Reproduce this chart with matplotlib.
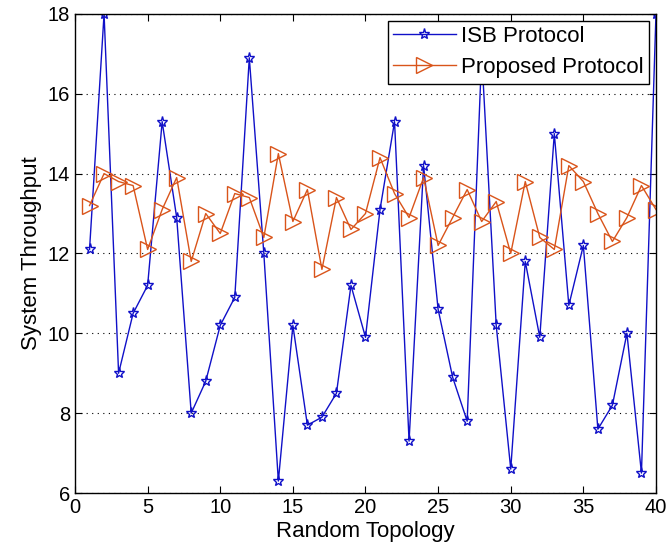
import matplotlib
matplotlib.use('Agg')
import matplotlib.pyplot as plt

plt.rcParams['font.family'] = ['Liberation Sans', 'DejaVu Sans']

topology = list(range(1, 41))
isb_protocol = [12.1, 18.0, 9.0, 10.5, 11.2, 15.3, 12.9, 8.0, 8.8, 10.2,
                10.9, 16.9, 12.0, 6.3, 10.2, 7.7, 7.9, 8.5, 11.2, 9.9,
                13.1, 15.3, 7.3, 14.2, 10.6, 8.9, 7.8, 17.0, 10.2, 6.6,
                11.8, 9.9, 15.0, 10.7, 12.2, 7.6, 8.2, 10.0, 6.5, 18.0]
proposed_protocol = [13.2, 14.0, 13.8, 13.7, 12.1, 13.1, 13.9, 11.8, 13.0, 12.5,
                     13.5, 13.4, 12.4, 14.5, 12.8, 13.6, 11.6, 13.4, 12.6, 13.0,
                     14.4, 13.5, 12.9, 13.9, 12.2, 12.9, 13.6, 12.8, 13.3, 12.0,
                     13.8, 12.4, 12.1, 14.2, 13.8, 13.0, 12.3, 12.9, 13.7, 13.1]

fig = plt.figure(figsize=(6.68, 5.54), dpi=100)
ax = fig.add_axes([0.1123, 0.110, 0.8697, 0.865])

ax.plot(topology, isb_protocol, color='#1010c8', lw=1.0, marker='*',
        markersize=8, markerfacecolor='none', markeredgewidth=1.0, label='ISB Protocol')
ax.plot(topology, proposed_protocol, color='#d9541a', lw=1.0, marker='>',
        markersize=11, markerfacecolor='none', markeredgewidth=1.0, label='Proposed Protocol')

ax.set_xlim(0, 40)
ax.set_ylim(6, 18)
ax.set_xticks(range(0, 41, 5))
ax.set_yticks(range(6, 19, 2))
ax.grid(axis='y', linestyle=(0, (1, 4)), color='black', lw=0.8)
ax.tick_params(direction='in', top=True, right=True, labelsize=14.5, length=5)
for s in ax.spines.values():
    s.set_linewidth(1.0)

ax.set_xlabel('Random Topology', fontsize=16, labelpad=3)
ax.set_ylabel('System Throughput', fontsize=16, labelpad=4)

leg = ax.legend(loc='upper right', fontsize=16, fancybox=False, framealpha=1,
                edgecolor='black', borderaxespad=0.3, handlelength=2.8,
                handletextpad=0.25, labelspacing=0.45, borderpad=0.25)
leg.get_frame().set_linewidth(1.0)
leg.set_zorder(5)

fig.savefig('out.png', dpi=100)
